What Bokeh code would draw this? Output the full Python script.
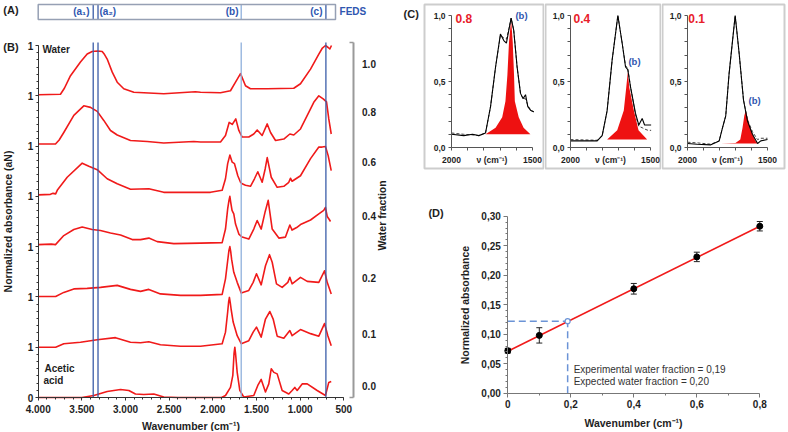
import math
from bokeh.plotting import figure
from bokeh.layouts import row, column
from bokeh.models import (Range1d, LinearAxis, FixedTicker, SingleIntervalTicker,
                          Label, BoxAnnotation, ColumnDataSource, Whisker, TeeHead)
from bokeh.embed import file_html
from bokeh.resources import INLINE

FONT = "Liberation Sans"
RED = "#f01a1a"
BLUE = "#2f56b0"
DARK = "#1e1e1e"
DASHBLUE = "#6b93d6"

# ---------------- Panel B : normalized FTIR spectra (0..1 each) ----------------
acetic_wn = [4000, 3500, 3363, 3210, 3057, 2962, 2886, 2791, 2676, 2562, 2400, 1900, 1855, 1798, 1771,
             1757, 1748, 1740, 1721, 1691, 1646, 1531, 1485, 1446, 1397, 1359, 1331, 1301, 1263, 1206,
             1130, 1092, 1061, 1034, 977, 919, 805, 710, 672, 644]
acetic_ab = [0.0, 0.0, 0.04, 0.12, 0.16, 0.14, 0.07, 0.06, 0.07, 0.01, 0.0, 0.0, 0.04, 0.20, 0.44,
             0.88, 1.0, 0.88, 0.50, 0.14, 0.01, 0.04, 0.24, 0.36, 0.11, 0.27, 0.57, 0.50, 0.47, 0.14,
             0.07, 0.14, 0.20, 0.14, 0.27, 0.27, 0.14, 0.04, 0.30, 0.32]

w01_wn = [4000, 3800, 3707, 3516, 3324, 3115, 2943, 2828, 2733, 2600, 2370, 2141, 1893, 1855, 1830,
          1819, 1810, 1800, 1790, 1767, 1721, 1675, 1588, 1538, 1500, 1446, 1397, 1347, 1309, 1263,
          1187, 1118, 1092, 996, 881, 786, 721, 683, 644]
w01_ab = [0.0, 0.0, 0.07, 0.10, 0.15, 0.19, 0.10, 0.09, 0.11, 0.05, 0.02, 0.02, 0.07, 0.30, 0.70,
          0.90, 0.99, 0.88, 0.75, 0.50, 0.23, 0.07, 0.13, 0.30, 0.40, 0.20, 0.56, 0.71, 0.56, 0.22,
          0.18, 0.33, 0.23, 0.35, 0.27, 0.22, 0.47, 0.23, 0.03]

w02_wn = [4000, 3800, 3707, 3592, 3439, 3287, 3095, 2943, 2828, 2733, 2600, 2370, 2141, 1893, 1855,
          1830, 1815, 1805, 1795, 1785, 1760, 1721, 1675, 1588, 1538, 1500, 1446, 1397, 1351, 1320,
          1271, 1206, 1141, 1118, 1092, 996, 919, 786, 721, 690, 644]
w02_ab = [0.01, 0.01, 0.09, 0.16, 0.17, 0.19, 0.23, 0.15, 0.11, 0.15, 0.06, 0.03, 0.03, 0.05, 0.36,
          0.72, 0.93, 1.0, 0.90, 0.75, 0.49, 0.29, 0.08, 0.13, 0.29, 0.46, 0.24, 0.62, 0.84, 0.69,
          0.26, 0.19, 0.29, 0.39, 0.26, 0.39, 0.31, 0.29, 0.52, 0.29, 0.06]

w04_wn = [4000, 3850, 3802, 3707, 3592, 3496, 3382, 3287, 3172, 3057, 2923, 2828, 2733, 2637, 2447,
          2141, 1893, 1855, 1830, 1815, 1805, 1795, 1780, 1760, 1740, 1702, 1664, 1588, 1531, 1492,
          1446, 1400, 1366, 1320, 1244, 1168, 1118, 1092, 1040, 996, 881, 786, 730, 710, 690, 670, 652]
w04_ab = [0.04, 0.05, 0.04, 0.22, 0.34, 0.39, 0.34, 0.32, 0.27, 0.23, 0.14, 0.14, 0.17, 0.10, 0.06,
          0.07, 0.08, 0.35, 0.75, 0.92, 1.0, 0.88, 0.72, 0.65, 0.45, 0.25, 0.19, 0.15, 0.35, 0.52,
          0.35, 0.70, 0.92, 0.35, 0.17, 0.19, 0.43, 0.33, 0.38, 0.44, 0.53, 0.65, 0.72, 0.78, 0.60,
          0.55, 0.50]

w06_wn = [4000, 3860, 3830, 3800, 3782, 3668, 3496, 3420, 3324, 3210, 3095, 2943, 2733, 2562, 2027,
          1893, 1855, 1830, 1805, 1778, 1752, 1714, 1683, 1664, 1626, 1569, 1523, 1485, 1435, 1400,
          1377, 1331, 1263, 1187, 1130, 1111, 1092, 996, 881, 786, 748, 710, 679, 644]
w06_ab = [0.03, 0.04, 0.06, 0.05, 0.12, 0.38, 0.66, 0.60, 0.53, 0.35, 0.25, 0.14, 0.15, 0.08, 0.08,
          0.12, 0.35, 0.65, 0.82, 0.68, 0.65, 0.41, 0.28, 0.25, 0.22, 0.20, 0.35, 0.49, 0.28, 0.55,
          0.77, 0.38, 0.18, 0.20, 0.28, 0.36, 0.30, 0.41, 0.75, 0.98, 0.98, 0.99, 0.81, 0.51]

w08_wn = [4000, 3802, 3760, 3707, 3592, 3478, 3401, 3324, 3249, 3172, 3095, 2943, 2752, 2562, 2218,
          2141, 1912, 1855, 1813, 1778, 1737, 1702, 1664, 1588, 1531, 1492, 1435, 1377, 1339, 1282,
          1187, 1118, 1073, 996, 881, 844, 786, 736, 698, 672, 644]
w08_ab = [0.04, 0.04, 0.12, 0.27, 0.61, 0.80, 0.77, 0.69, 0.51, 0.31, 0.22, 0.11, 0.09, 0.06, 0.09,
          0.08, 0.08, 0.21, 0.47, 0.43, 0.54, 0.31, 0.18, 0.18, 0.24, 0.32, 0.21, 0.44, 0.27, 0.11,
          0.14, 0.24, 0.22, 0.34, 0.74, 0.87, 1.0, 0.94, 0.88, 0.54, 0.24]

water_wn = [4000, 3745, 3700, 3630, 3516, 3439, 3382, 3320, 3267, 3240, 3210, 3152, 3095, 3020, 2905,
            2562, 2200, 2141, 1912, 1798, 1740, 1683, 1626, 1569, 1377, 1073, 996, 881, 786, 745,
            710, 679, 660, 641]
water_ab = [0.02, 0.03, 0.15, 0.40, 0.67, 0.83, 0.88, 0.89, 0.88, 0.82, 0.73, 0.47, 0.27, 0.14, 0.07,
            0.04, 0.08, 0.07, 0.06, 0.10, 0.27, 0.44, 0.20, 0.14, 0.14, 0.15, 0.24, 0.53, 0.83, 0.95,
            1.0, 0.96, 0.93, 1.0]

# stacking order, bottom to top
spectra = [(acetic_wn, acetic_ab), (w01_wn, w01_ab), (w02_wn, w02_ab), (w04_wn, w04_ab),
           (w06_wn, w06_ab), (w08_wn, w08_ab), (water_wn, water_ab)]

water_fraction_labels = ["0.0", "0.1", "0.2", "0.4", "0.6", "0.8", "1.0"]
water_fraction_pos = [0.22, 1.27, 2.37, 3.60, 4.69, 5.67, 6.64]

x_ticks = [4000, 3500, 3000, 2500, 2000, 1500, 1000, 500]
x_tick_labels = ["4.000", "3.500", "3.000", "2.500", "2.000", "1.500", "1.000", "500"]

# FEDS marker wavenumbers
feds_wn = [3370, 3315, 1675, 705]
feds_labels = ["(a\u2081)", "(a\u2082)", "(b)", "(c)"]
feds_colors = ["#3a5ca8", "#3a5ca8", "#8fb0dc", "#3a5ca8"]

# ---------------- Panel C : band (b) deconvolution ----------------
c08_wn = [2000, 1924, 1870, 1831, 1790, 1759, 1728, 1698, 1677, 1661, 1646, 1632, 1616, 1595, 1574,
          1558, 1543, 1529, 1510, 1492]
c08_ab = [0.10, 0.09, 0.10, 0.09, 0.11, 0.31, 0.61, 0.86, 0.81, 0.79, 0.89, 0.98, 0.89, 0.61, 0.41,
          0.37, 0.40, 0.31, 0.28, 0.27]
c08_fit = [0.11, 0.10, 0.095, 0.09, 0.11, 0.31, 0.61, 0.85, 0.83, 0.82, 0.90, 0.98, 0.89, 0.61, 0.41,
           0.37, 0.37, 0.32, 0.28, 0.27]
c08_b_wn = [1790, 1728, 1687, 1667, 1655, 1645, 1632, 1622, 1614, 1609, 1585, 1555, 1513]
c08_b_ab = [0.10, 0.15, 0.23, 0.35, 0.55, 0.80, 0.97, 0.80, 0.55, 0.35, 0.23, 0.15, 0.10]
c08_base = 0.10

c04_wn = [2000, 1833, 1802, 1771, 1740, 1704, 1677, 1656, 1642, 1625, 1594, 1573, 1552, 1537, 1515, 1496]
c04_ab = [0.05, 0.05, 0.09, 0.28, 0.66, 1.0, 0.79, 0.61, 0.59, 0.46, 0.26, 0.17, 0.22, 0.17, 0.17, 0.17]
c04_fit = [0.06, 0.055, 0.09, 0.28, 0.66, 1.0, 0.79, 0.62, 0.60, 0.46, 0.25, 0.16, 0.15, 0.14, 0.13, 0.13]
c04_b_wn = [1771, 1708, 1667, 1652, 1642, 1632, 1604, 1575, 1521]
c04_b_ab = [0.06, 0.13, 0.28, 0.45, 0.57, 0.45, 0.28, 0.13, 0.06]
c04_base = 0.06

c01_wn = [2000, 1940, 1854, 1802, 1781, 1761, 1740, 1702, 1677, 1650, 1625, 1594, 1562, 1542, 1500]
c01_ab = [0.03, 0.025, 0.02, 0.05, 0.15, 0.24, 0.56, 1.0, 0.71, 0.36, 0.20, 0.10, 0.03, 0.05, 0.06]
c01_fit = [0.04, 0.035, 0.025, 0.05, 0.15, 0.24, 0.56, 1.0, 0.71, 0.36, 0.21, 0.12, 0.06, 0.07, 0.07]
c01_b_wn = [1792, 1700, 1670, 1656, 1645, 1636, 1625, 1610, 1590, 1575, 1562]
c01_b_ab = [0.03, 0.035, 0.06, 0.15, 0.24, 0.28, 0.23, 0.16, 0.09, 0.05, 0.03]
c01_base = 0.03

# ---------------- Panel D : calibration ----------------
d_fraction = [0.0, 0.1, 0.4, 0.6, 0.8]
d_absorbance = [0.072, 0.098, 0.177, 0.231, 0.283]
d_error = [0.004, 0.013, 0.009, 0.008, 0.008]
fit_x = [0.0, 0.8]
fit_y = [0.071, 0.283]
est_fraction = 0.19
est_absorbance = 0.122


def make_range(v0, p0, v1, p1, size):
    """Range whose value v0 sits at pixel p0 and v1 at pixel p1 (pixels from left / bottom)."""
    k = (v1 - v0) / (p1 - p0)
    return Range1d(v0 - p0 * k, v0 + (size - p0) * k)


def base_fig(w, h, xr, yr):
    p = figure(width=w, height=h, x_range=xr, y_range=yr, output_backend="svg",
               toolbar_location=None, min_border=0, min_border_left=0, min_border_right=0,
               min_border_top=0, min_border_bottom=0)
    p.outline_line_color = None
    p.xgrid.visible = False
    p.ygrid.visible = False
    return p


def style_axis(ax, size="10px", color="#333333"):
    ax.major_label_text_font = FONT
    ax.major_label_text_font_style = "bold"
    ax.major_label_text_font_size = size
    ax.major_label_text_color = DARK
    ax.axis_label_text_font = FONT
    ax.axis_label_text_font_style = "bold"
    ax.axis_label_text_font_size = "10.5px"
    ax.axis_label_text_color = DARK
    ax.axis_line_color = color
    ax.major_tick_line_color = color
    ax.minor_tick_line_color = color


def lab(p, x, y, text, size="10px", color=DARK, bold=True, align="left", angle=0.0):
    p.add_layout(Label(x=x, y=y, text=text, text_font=FONT, text_font_size=size,
                       text_font_style="bold" if bold else "normal", text_color=color,
                       text_align=align, text_baseline="middle", angle=angle))


# =============== Left figure: panels A + B ===============
WB, HB = 390, 431
pB = base_fig(WB, HB, make_range(4000, 37.7, 500, 343.3, WB), make_range(0, 34, 7, 386, HB))

for k, (wn, ab) in enumerate(spectra):
    pB.line(wn, [a + k for a in ab], line_color=RED, line_width=1.6, line_join="round")

# FEDS vertical markers (panel B part and panel A part)
pB.segment(x0=feds_wn, x1=feds_wn, y0=[0] * 4, y1=[7.06] * 4, line_color=feds_colors, line_width=1.3)
pB.segment(x0=feds_wn, x1=feds_wn, y0=[7.516] * 4, y1=[7.815] * 4, line_color=feds_colors, line_width=1.3)
pB.quad(left=[595], right=[4000], bottom=[7.516], top=[7.815], fill_color=None,
        line_color="#96a0b4", line_width=1.5)
lab(pB, 3412, 7.67, feds_labels[0], color=BLUE, align="right")
lab(pB, 3298, 7.67, feds_labels[1], color=BLUE)
lab(pB, 1706, 7.67, feds_labels[2], color=BLUE, align="right")
lab(pB, 744, 7.67, feds_labels[3], color=BLUE, align="right")
lab(pB, 549, 7.67, "FEDS", color=BLUE)

lab(pB, 4400, 7.70, "(A)", size="11px")
lab(pB, 4400, 6.98, "(B)", size="11px")
lab(pB, 3951, 6.92, "Water")
lab(pB, 3928, 0.58, "Acetic")
lab(pB, 3940, 0.34, "acid")
lab(pB, 68, 3.62, "Water fraction", size="10.5px", angle=math.pi / 2, align="center")

pB.xaxis.fixed_location = 0
pB.xaxis.ticker = SingleIntervalTicker(interval=500, num_minor_ticks=5)
pB.xaxis.major_label_overrides = dict(zip(x_ticks, x_tick_labels))
pB.xaxis.bounds = (500, 4000)
pB.xaxis.axis_label = "Wavenumber (cm\u207b\u00b9)"
pB.yaxis.fixed_location = 4000
pB.yaxis.ticker = SingleIntervalTicker(interval=1, num_minor_ticks=7)
pB.yaxis.major_label_overrides = {i: ("0" if i == 0 else "1") for i in range(8)}
pB.yaxis.bounds = (0, 7)
pB.yaxis.axis_label = "Normalized absorbance (aN)"
for ax in (pB.xaxis[0], pB.yaxis[0]):
    style_axis(ax)
    ax.major_tick_out = 3
    ax.major_tick_in = 0
    ax.minor_tick_out = 2
    ax.minor_tick_in = 0
pB.xaxis.major_label_standoff = 4
pB.xaxis.axis_label_standoff = 4
pB.yaxis.major_label_standoff = 2
pB.yaxis.axis_label_standoff = 11

rax = LinearAxis(ticker=FixedTicker(ticks=water_fraction_pos, minor_ticks=[0, 7.06]),
                 major_label_overrides=dict(zip(water_fraction_pos, water_fraction_labels)),
                 bounds=(0, 7.06), fixed_location=394)
style_axis(rax, color="#9a9a9a")
rax.axis_line_width = 2
rax.major_tick_line_color = None
rax.minor_tick_line_width = 1.5
rax.minor_tick_in = 4
rax.minor_tick_out = 0
rax.major_label_standoff = 3
pB.add_layout(rax, "right")


# =============== Panel C ===============
HC = 172


def make_c(width, fl, fr, box_left, box_right, wn, ab, fit, bwn, bab, base, frac, frac_x, b_x, b_y,
           panel_label=None):
    p = base_fig(width, HC, make_range(2000, fl, 1500, fr, width), make_range(0, 25, 1.0, 157, HC))
    p.varea(x=bwn, y1=[base] * len(bwn), y2=bab, fill_color="#ee1111")
    p.line(wn, fit, line_color="#444444", line_width=1, line_dash="3 2")
    p.line(wn, ab, line_color="black", line_width=1.1)
    p.xaxis.fixed_location = 0
    p.yaxis.fixed_location = 2000
    p.yaxis.ticker = FixedTicker(ticks=[0, 0.5, 1.0], minor_ticks=[0.1, 0.2, 0.3, 0.4, 0.6, 0.7, 0.8, 0.9])
    p.yaxis.major_label_overrides = {0: "0,0", 0.5: "0,5", 1.0: "1,0"}
    p.yaxis.bounds = (0, 1)
    p.xaxis.bounds = (1500, 2000)
    p.xaxis.ticker = FixedTicker(ticks=[2000, 1750, 1500],
                                 minor_ticks=[2000, 1900, 1800, 1700, 1600, 1500])
    p.xaxis.major_label_overrides = {2000: "2000", 1750: "\u03bd (cm\u207b\u00b9)", 1500: "1500"}
    for ax in (p.xaxis[0], p.yaxis[0]):
        style_axis(ax, size="8.5px", color="#555555")
        ax.major_tick_out = 0
        ax.major_tick_in = 0
        ax.minor_tick_out = 3
        ax.minor_tick_in = 0
        ax.major_label_standoff = 4
    p.yaxis.major_tick_out = 3
    p.yaxis.major_label_standoff = 3
    lab(p, frac_x, 0.975, frac, size="12px", color="#e8202a")
    lab(p, b_x, b_y, "(b)", size="9.5px", color=BLUE, align="center")
    if panel_label:
        lab(p, 2296, 1.015, panel_label, size="11px")
    p.add_layout(BoxAnnotation(left=box_left + 1, right=box_right - 1, top=4, bottom=168,
                               left_units="canvas", right_units="canvas",
                               top_units="canvas", bottom_units="canvas",
                               fill_alpha=0, line_color="#5a5a5a", line_width=2))
    return p


pC1 = make_c(154, 61, 142, 33, 154, c08_wn, c08_ab, c08_fit, c08_b_wn, c08_b_ab, c08_base,
             "0.8", 1975, 1568, 1.0, panel_label="(C)")
pC2 = make_c(117, 26, 106, 0, 117, c04_wn, c04_ab, c04_fit, c04_b_wn, c04_b_ab, c04_base,
             "0.4", 1981, 1600, 0.65)
pC3 = make_c(126, 26, 106, 0, 124, c01_wn, c01_ab, c01_fit, c01_b_wn, c01_b_ab, c01_base,
             "0.1", 1995, 1581, 0.356)

# =============== Panel D ===============
WD, HD = 397, 259
pD = base_fig(WD, HD, make_range(0, 117.3, 0.8, 369.3, WD), make_range(0, 38.3, 0.30, 215.3, HD))
pD.line([0, est_fraction], [est_absorbance, est_absorbance], line_color=DASHBLUE, line_width=1.5,
        line_dash="7 4")
pD.line([est_fraction, est_fraction], [0, est_absorbance], line_color=DASHBLUE, line_width=1.5,
        line_dash="7 4")
pD.line(fit_x, fit_y, line_color=RED, line_width=1.6)
srcD = ColumnDataSource(dict(x=d_fraction, y=d_absorbance,
                             upper=[a + e for a, e in zip(d_absorbance, d_error)],
                             lower=[a - e for a, e in zip(d_absorbance, d_error)]))
pD.add_layout(Whisker(source=srcD, base="x", upper="upper", lower="lower", line_color="#222222",
                      line_width=1, upper_head=TeeHead(size=6, line_color="#222222"),
                      lower_head=TeeHead(size=6, line_color="#222222")))
pD.scatter("x", "y", source=srcD, marker="circle", size=6, color="black")
pD.scatter([est_fraction], [est_absorbance], marker="circle", size=5, fill_color="white",
           line_color=DASHBLUE, line_width=1.2)
lab(pD, 0.209, 0.040, "Experimental water fraction = 0,19", size="10px", color="#333333", bold=False)
lab(pD, 0.209, 0.020, "Expected water fraction = 0,20", size="10px", color="#333333", bold=False)
lab(pD, -0.252, 0.3046, "(D)", size="11px")

d_xt = [0, 0.2, 0.4, 0.6, 0.8]
d_yt = [0, 0.05, 0.1, 0.15, 0.2, 0.25, 0.3]
pD.xaxis.fixed_location = 0
pD.yaxis.fixed_location = 0
pD.xaxis.bounds = (0, 0.8)
pD.yaxis.bounds = (0, 0.3)
pD.xaxis.ticker = FixedTicker(ticks=d_xt, minor_ticks=[0.1, 0.3, 0.5, 0.7])
pD.xaxis.major_label_overrides = dict(zip(d_xt, ["0", "0,2", "0,4", "0,6", "0,8"]))
pD.yaxis.ticker = FixedTicker(ticks=d_yt, minor_ticks=[i / 100 for i in range(31) if i % 5])
pD.yaxis.major_label_overrides = dict(zip(d_yt, ["0,00", "0,05", "0,10", "0,15", "0,20", "0,25", "0,30"]))
pD.xaxis.axis_label = "Wavenumber (cm\u207b\u00b9)"
pD.yaxis.axis_label = "Normalized absorbance"
for ax in (pD.xaxis[0], pD.yaxis[0]):
    style_axis(ax, color="#777777")
    ax.major_tick_out = 4
    ax.major_tick_in = 0
    ax.minor_tick_out = 2
    ax.minor_tick_in = 0
    ax.major_label_standoff = 3
pD.xaxis.axis_label_standoff = 5
pD.yaxis.axis_label_standoff = 7

layout = row(pB, column(row(pC1, pC2, pC3), pD))
open("out.html", "w").write(file_html(layout, INLINE))
